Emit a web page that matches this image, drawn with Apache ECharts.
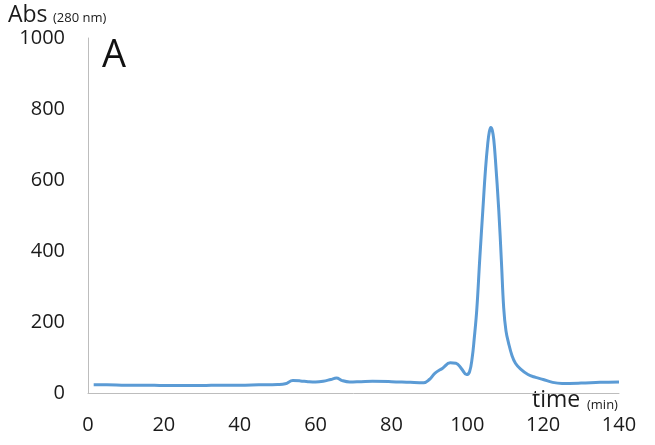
<!DOCTYPE html>
<html>
<head>
<meta charset="utf-8">
<script src="https://cdn.jsdelivr.net/npm/echarts@6/dist/echarts.min.js"></script>
<style>html,body{margin:0;padding:0;background:#fff;}#c{width:655px;height:445px;}</style>
</head>
<body>
<div id="c"></div>
<script>
const times = [1.5,5,10,15,20,25,30,35,40,45,50,52,54,56,58,60,62,64,65.5,67,69,72,75,80,85,88.5,90,91.5,93.5,95.5,97,98.5,99.8,100.6,101.3,101.8,102.5,103.3,104.1,104.8,105.4,105.8,106.2,106.6,107.0,107.4,108.3,109,109.6,110.2,110.9,111.8,112.7,114,116,118,120,122.5,125,130,135,140];
const absValues = [23,23,22,22,21,21,21,22,22,23,24,26,35,34,32,31,33,38,42,35,31,32,33,32,30,29,38,56,70,85,84,68,52,60,100,150,234,380,515,630,703,735,748,740,712,660,515,370,240,175,140,105,84,68,52,44,38,30,27,28,30,31];
const xTicks = [0,20,40,60,80,100,120,140];
const yTicks = [0,200,400,600,800,1000];

const chart = echarts.init(document.getElementById('c'), null, {renderer:'canvas'});
const font = "'Open Sans', 'Liberation Sans', sans-serif";
chart.setOption({
  animation:false,
  grid:{left:88,right:36,top:38,bottom:52,containLabel:false},
  xAxis:{type:'value',min:xTicks[0],max:xTicks[xTicks.length-1],interval:20,
    axisLine:{show:true,lineStyle:{color:'#bdbdbd',width:1}},
    axisTick:{show:false},splitLine:{show:false},
    axisLabel:{fontSize:20,color:'#1a1a1a',fontFamily:font,margin:22,formatter:v=>String(v)}},
  yAxis:{type:'value',min:yTicks[0],max:yTicks[yTicks.length-1],interval:200,
    axisLine:{show:true,lineStyle:{color:'#bdbdbd',width:1}},
    axisTick:{show:false},splitLine:{show:false},
    axisLabel:{fontSize:20,color:'#1a1a1a',fontFamily:font,margin:23,formatter:v=>String(v)}},
  graphic:[
    {type:'text',left:8,top:4,style:{text:'Abs',fontSize:23,fill:'#1a1a1a',fontFamily:font}},
    {type:'text',left:53,top:12,style:{text:'(280 nm)',fontSize:13,fill:'#1a1a1a',fontFamily:font}},
    {type:'text',left:102,top:37,style:{text:'A',fontSize:38,fill:'#111',fontFamily:font}},
    {type:'text',left:532,top:389,style:{text:'time',fontSize:23,fill:'#1a1a1a',fontFamily:font}},
    {type:'text',left:587,top:399,style:{text:'(min)',fontSize:13,fill:'#1a1a1a',fontFamily:font}}
  ],
  series:[{type:'line',data:times.map((t,i)=>[t,absValues[i]]),smooth:0.4,showSymbol:false,
    lineStyle:{color:'#5b9bd5',width:3}}]
});
</script>
</body>
</html>
